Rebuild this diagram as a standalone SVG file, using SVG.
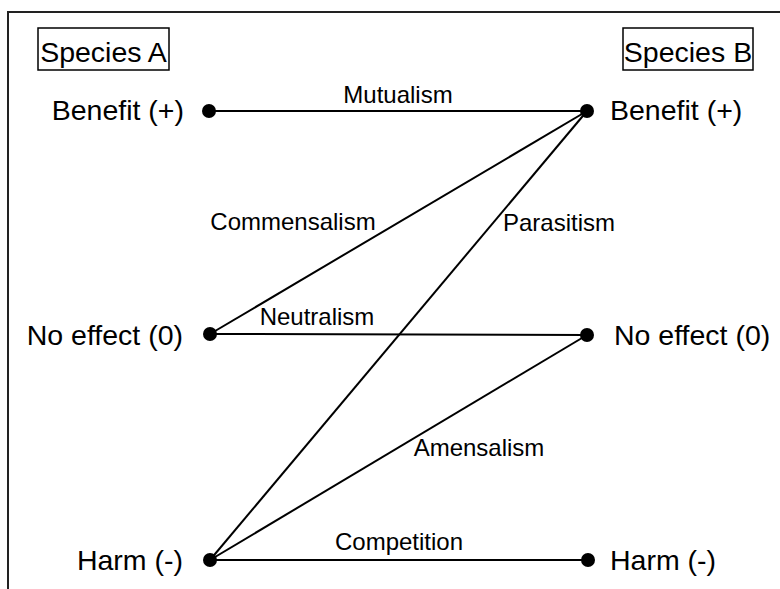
<svg xmlns="http://www.w3.org/2000/svg" width="780" height="589" viewBox="0 0 780 589">
<style>
  text { font-family: "Liberation Sans", Arial, sans-serif; fill: #000; }
  .main { font-size: 28.5px; }
  .lbl { font-size: 24px; text-anchor: middle; }
  .edge { stroke: #000; stroke-width: 2; fill: none; }
  .dot { fill: #000; }
  .box { fill: none; stroke: #000; stroke-width: 1.5; }
  .frame { stroke: #222; stroke-width: 2; fill: none; }
</style>
<rect width="780" height="589" fill="#fff"/>
<path class="frame" d="M8,589 V12 H780"/>

<g id="connectors">
  <line class="edge" x1="209" y1="111" x2="587" y2="111"/>
  <line class="edge" x1="210" y1="334" x2="587" y2="111"/>
  <line class="edge" x1="210" y1="560" x2="587" y2="111"/>
  <line class="edge" x1="210" y1="334" x2="587" y2="335"/>
  <line class="edge" x1="210" y1="560" x2="587" y2="335"/>
  <line class="edge" x1="210" y1="560" x2="588" y2="560"/>
  <text class="lbl" x="398" y="103">Mutualism</text>
  <text class="lbl" x="293" y="230">Commensalism</text>
  <text class="lbl" x="559" y="231">Parasitism</text>
  <text class="lbl" x="317" y="325">Neutralism</text>
  <text class="lbl" x="479" y="456">Amensalism</text>
  <text class="lbl" x="399" y="550">Competition</text>
</g>

<g id="speciesA">
  <rect class="box" x="38" y="28" width="131" height="42"/>
  <text class="main" x="103.5" y="62" text-anchor="middle">Species A</text>
</g>
<g id="speciesB">
  <rect class="box" x="623" y="28" width="130" height="42"/>
  <text class="main" x="688" y="62" text-anchor="middle">Species B</text>
</g>

<g id="A-benefit">
  <circle class="dot" cx="209" cy="111" r="7"/>
  <text class="main" x="184" y="120" text-anchor="end">Benefit (+)</text>
</g>
<g id="A-noeffect">
  <circle class="dot" cx="210" cy="334" r="7"/>
  <text class="main" x="183" y="345" text-anchor="end">No effect (0)</text>
</g>
<g id="A-harm">
  <circle class="dot" cx="210" cy="560" r="7"/>
  <text class="main" x="183" y="570" text-anchor="end">Harm (-)</text>
</g>
<g id="B-benefit">
  <circle class="dot" cx="587" cy="111" r="7"/>
  <text class="main" x="610" y="120">Benefit (+)</text>
</g>
<g id="B-noeffect">
  <circle class="dot" cx="587" cy="335" r="7"/>
  <text class="main" x="614" y="345">No effect (0)</text>
</g>
<g id="B-harm">
  <circle class="dot" cx="588" cy="560" r="7"/>
  <text class="main" x="610" y="570">Harm (-)</text>
</g>
</svg>
